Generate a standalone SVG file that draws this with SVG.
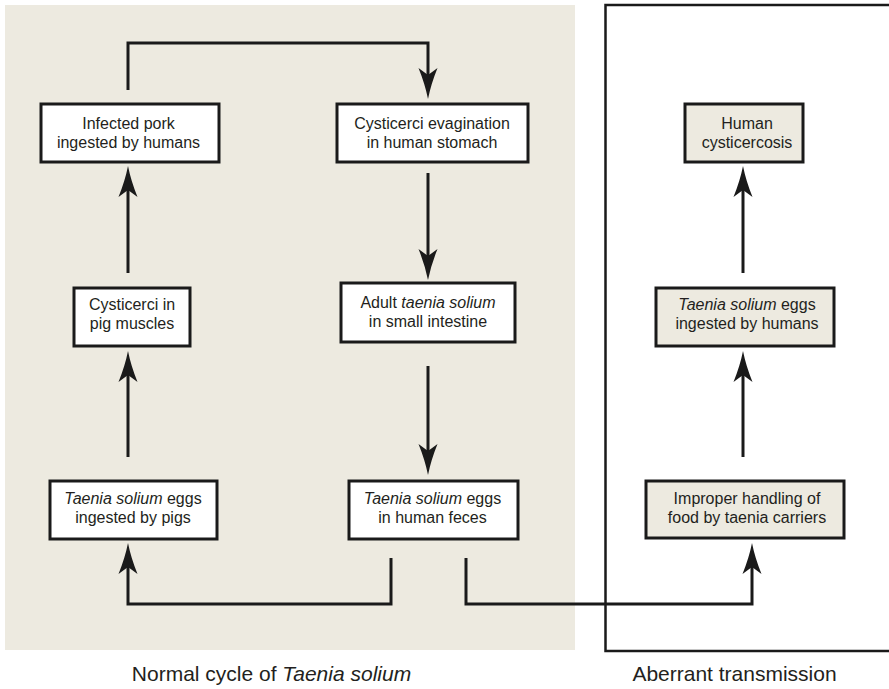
<svg xmlns="http://www.w3.org/2000/svg" width="889" height="689" viewBox="0 0 889 689">
<style>
  .bg { fill: #edeae0; }
  .box { fill: #ffffff; stroke: #1a1a1a; stroke-width: 3; }
  .box.alt { fill: #edeae0; }
  .lbl { font-family: "Liberation Sans", Arial, Helvetica, sans-serif; font-size: 16px; fill: #231f20; text-anchor: middle; }
  .cap { font-family: "Liberation Sans", Arial, Helvetica, sans-serif; font-size: 21px; fill: #231f20; text-anchor: middle; }
  .it { font-style: italic; }
  .conn { fill: none; stroke: #1a1a1a; stroke-width: 3; marker-end: url(#arr); }
  .frame { fill: none; stroke: #1a1a1a; stroke-width: 2.5; }
</style>
<defs>
  <marker id="arr" markerUnits="userSpaceOnUse" markerWidth="33" markerHeight="22" viewBox="0 -11 33 22" refX="7" refY="0" orient="auto">
    <path d="M31,0 Q16,-3 0,-9.5 L7,0 L0,9.5 Q16,3 31,0 Z" fill="#1a1a1a"/>
  </marker>
</defs>

<rect class="bg" x="5" y="5" width="570" height="645"/>
<path class="frame" d="M890,5 H605.5 V651 H890"/>

<g id="connectors">
  <path class="conn" d="M128,90 V43 H428 V75"/>
  <path class="conn" d="M428,173 V256"/>
  <path class="conn" d="M428,366 V451"/>
  <path class="conn" d="M391,558 V604 H128 V567"/>
  <path class="conn" d="M466,558 V604 H752 V567"/>
  <path class="conn" d="M128,457 V375"/>
  <path class="conn" d="M128,273 V190"/>
  <path class="conn" d="M743,457 V375"/>
  <path class="conn" d="M743,273 V190"/>
</g>

<g id="n-pork">
  <rect class="box" x="41" y="104" width="178" height="58"/>
  <text class="lbl" x="128.5" y="129">Infected pork</text>
  <text class="lbl" x="128.5" y="148">ingested by humans</text>
</g>
<g id="n-evagination">
  <rect class="box" x="337" y="104" width="191" height="58"/>
  <text class="lbl" x="432" y="129">Cysticerci evagination</text>
  <text class="lbl" x="432" y="148">in human stomach</text>
</g>
<g id="n-pigmuscles">
  <rect class="box" x="74" y="288" width="116" height="58"/>
  <text class="lbl" x="132" y="310">Cysticerci in</text>
  <text class="lbl" x="132" y="329">pig muscles</text>
</g>
<g id="n-adult">
  <rect class="box" x="341" y="283" width="174" height="59"/>
  <text class="lbl" x="428" y="308">Adult <tspan class="it">taenia solium</tspan></text>
  <text class="lbl" x="428" y="327">in small intestine</text>
</g>
<g id="n-eggspigs">
  <rect class="box" x="50" y="481" width="167" height="58"/>
  <text class="lbl" x="133" y="504"><tspan class="it">Taenia solium</tspan> eggs</text>
  <text class="lbl" x="133" y="523">ingested by pigs</text>
</g>
<g id="n-feces">
  <rect class="box" x="349" y="481" width="169" height="58"/>
  <text class="lbl" x="432.5" y="504"><tspan class="it">Taenia solium</tspan> eggs</text>
  <text class="lbl" x="432.5" y="523">in human feces</text>
</g>
<g id="n-cysticercosis">
  <rect class="box alt" x="685" y="104" width="118" height="58"/>
  <text class="lbl" x="747" y="129">Human</text>
  <text class="lbl" x="747" y="148">cysticercosis</text>
</g>
<g id="n-eggshumans">
  <rect class="box alt" x="656" y="288" width="178" height="58"/>
  <text class="lbl" x="747" y="310"><tspan class="it">Taenia solium</tspan> eggs</text>
  <text class="lbl" x="747" y="329">ingested by humans</text>
</g>
<g id="n-improper">
  <rect class="box alt" x="646" y="481" width="198" height="57"/>
  <text class="lbl" x="747" y="504">Improper handling of</text>
  <text class="lbl" x="747" y="523">food by taenia carriers</text>
</g>

<text class="cap" x="271.5" y="681">Normal cycle of <tspan class="it">Taenia solium</tspan></text>
<text class="cap" x="734.5" y="681">Aberrant transmission</text>
</svg>
